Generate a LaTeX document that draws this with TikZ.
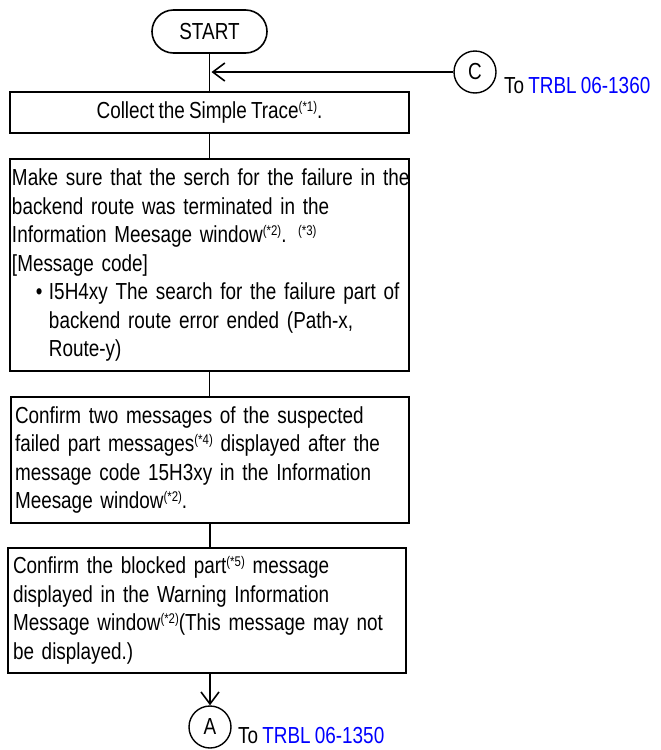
\documentclass[tikz,border=0pt]{standalone}
\usepackage{fontspec}
\setmainfont{Liberation Sans}[FakeStretch=0.815,WordSpace=0.8]
\usetikzlibrary{arrows.meta,shapes.misc}
\newcommand\supx[1]{\raisebox{7pt}{\fontsize{14}{14}\selectfont #1}}
\begin{document}
\begin{tikzpicture}[x=1pt,y=1pt,
  every node/.style={font=\fontsize{23.2}{28.5}\selectfont},
  boxst/.style={draw,line width=1.6pt,rectangle,inner sep=0pt,align=left},
  circst/.style={draw,line width=1.4pt,circle,minimum size=42pt,inner sep=0pt},
  conn/.style={line width=1.6pt},
  arr/.style={line width=1.6pt,-{Straight Barb[length=12pt,width=18pt,line width=1.6pt]}}]
\useasboundingbox (0,0) rectangle (661,-750);
\node[draw,line width=1.6pt,rounded rectangle,minimum width=115pt,minimum height=43pt,inner sep=0pt] (start) at (209.5,-31.5) {START};
\node[boxst,align=center,minimum width=399pt,minimum height=41pt] (collect) at (209.5,-112.5) {Collect the Simple Trace\supx{(*1)}.};
\node[boxst,minimum width=399pt,minimum height=212pt,text width=395pt] (box2) at (209.5,-265) {\mbox{Make sure that the serch for the failure in the}\\
backend route was terminated in the\\
Information Meesage window\supx{(*2)}. \supx{(*3)}\\
{[}Message code{]}\\
\hspace*{24pt}\makebox[13pt][l]{•}I5H4xy The search for the failure part of\\
\hspace*{37pt}backend route error ended (Path-x,\\
\hspace*{37pt}Route-y)};
\node[boxst,minimum width=398pt,minimum height=126pt,text width=390pt] (box3) at (210,-460) {Confirm two messages of the suspected\\
failed part messages\supx{(*4)} displayed after the\\
message code 15H3xy in the Information\\
Meesage window\supx{(*2)}.};
\node[boxst,minimum width=398pt,minimum height=125pt,text width=388pt] (box4) at (207,-610.5) {Confirm the blocked part\supx{(*5)} message\\
displayed in the Warning Information\\
Message window\supx{(*2)}(This message may not\\
be displayed.)};
\node[circst] (C) at (475,-72) {C};
\node[anchor=west,inner sep=0pt] (tolabelC) at (504,-86) {To \textcolor{blue}{TRBL 06-1360}};
\node[circst] (A) at (210,-727) {A};
\node[anchor=west,inner sep=0pt] (tolabelA) at (238,-736) {To \textcolor{blue}{TRBL 06-1350}};
\coordinate (join) at (211.5,-72);
\draw[conn] (start.south) -- (collect.north);
\draw[arr] (C.west) -- (join);
\draw[conn] (collect.south) -- (box2.north);
\draw[conn] (box2.south) -- (box2.south |- box3.north);
\draw[conn] (box3.south) -- (box3.south |- box4.north);
\draw[arr] (A.north |- box4.south) -- (A.north);
\end{tikzpicture}
\end{document}
